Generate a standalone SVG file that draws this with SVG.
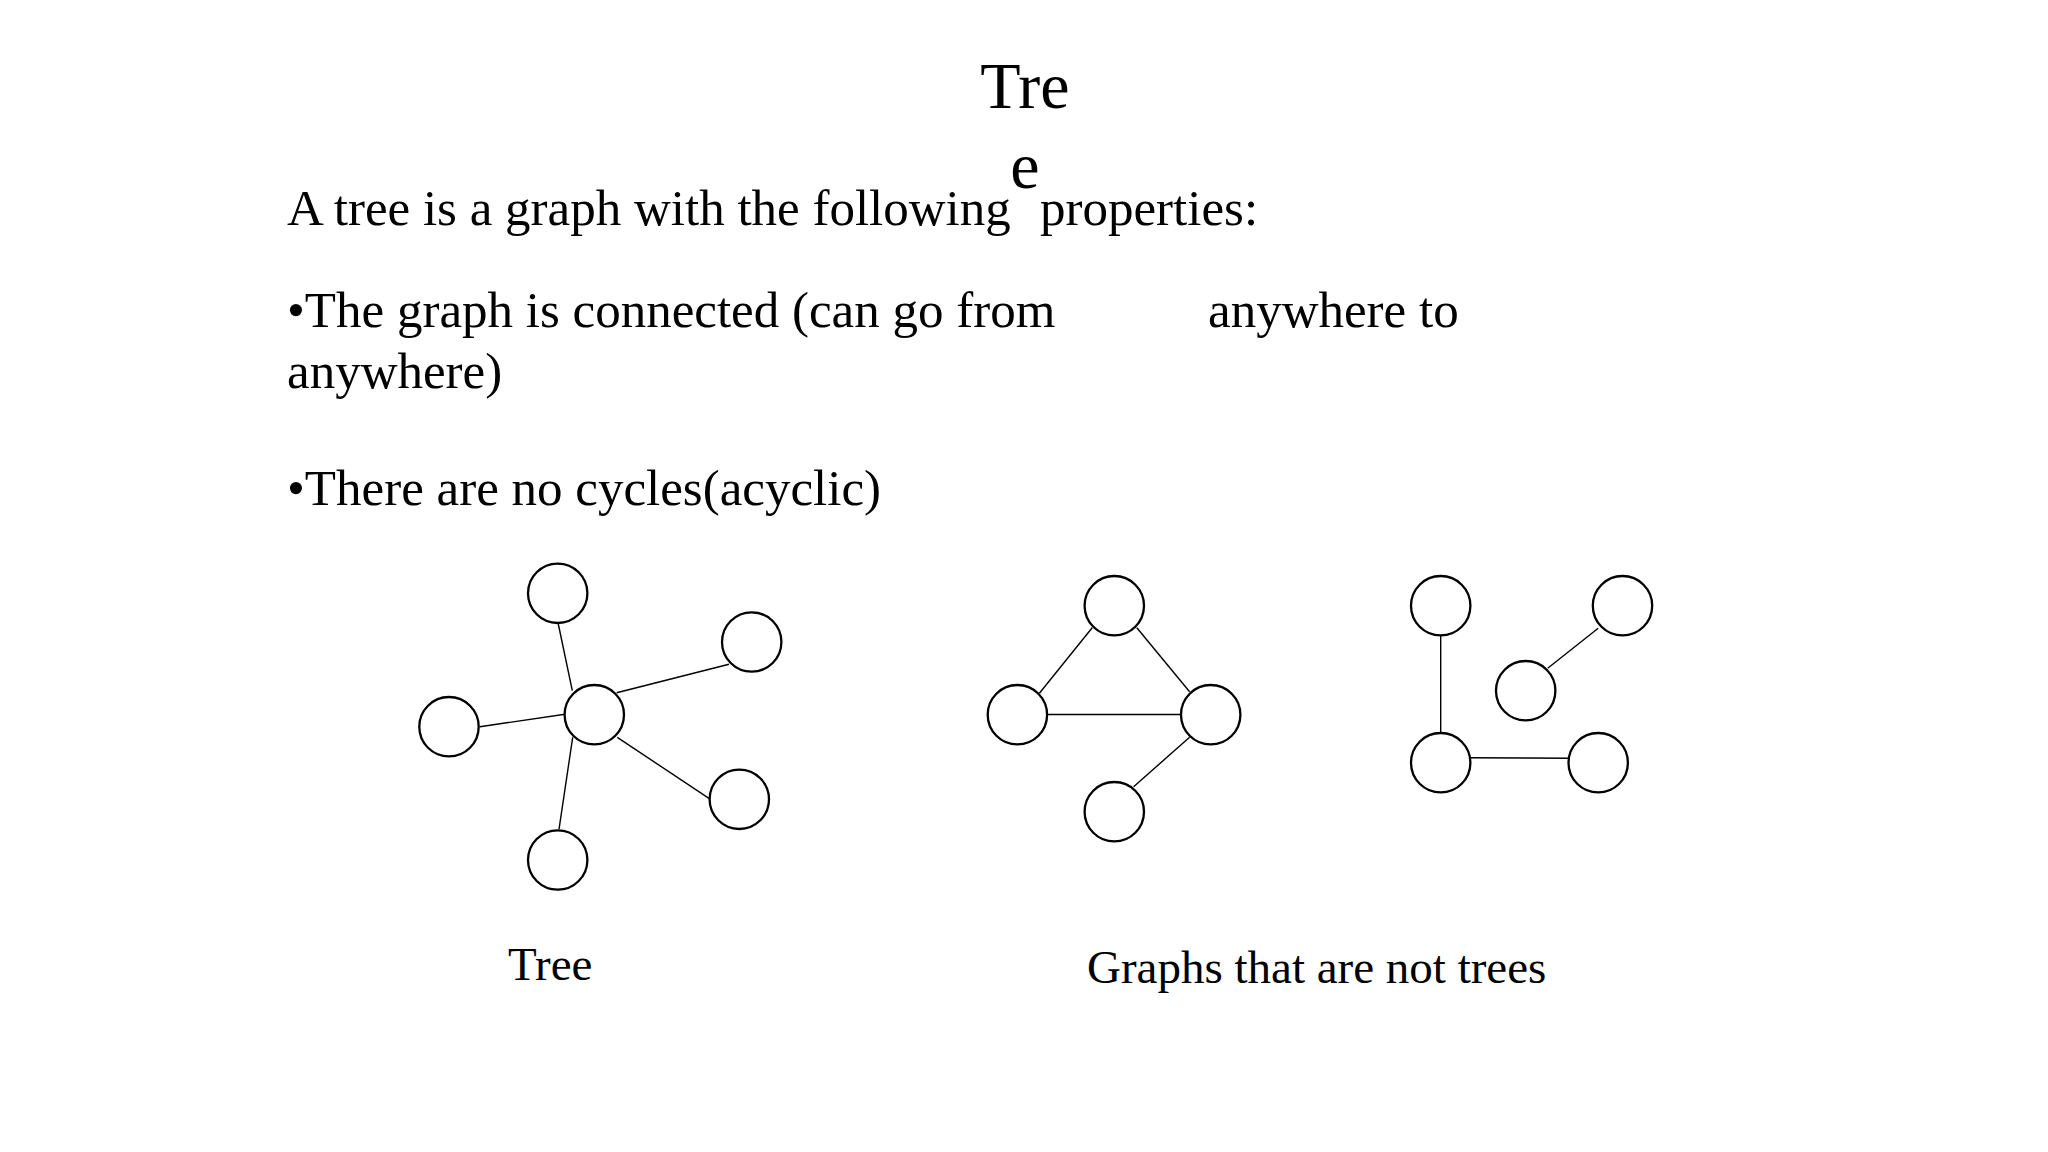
<svg xmlns="http://www.w3.org/2000/svg" width="2048" height="1152" viewBox="0 0 2048 1152">
<style>
text{font-family:"Liberation Serif","Times New Roman",serif;fill:#000}
.t{font-size:51px}
.l{font-size:47px}
.n{fill:#fff;stroke:#000;stroke-width:2.3}
.e{stroke:#000;stroke-width:1.4;fill:none}
</style>
<rect width="2048" height="1152" fill="#fff"/>
<g id="title">
<text x="1025" y="108" font-size="66" text-anchor="middle">Tre</text>
<text x="1025" y="188" font-size="66" text-anchor="middle">e</text>
</g>
<g id="body">
<text class="t" x="287" y="225">A tree is a graph with the following</text>
<text class="t" x="1040" y="225">properties:</text>
<text class="t" x="287" y="327">•The graph is connected (can go from</text>
<text class="t" x="1208" y="327">anywhere to</text>
<text class="t" x="287" y="388">anywhere)</text>
<text class="t" x="287" y="505">•There are no cycles(acyclic)</text>
</g>
<g id="connectors">
<line class="e" x1="558.3" y1="624" x2="572.3" y2="690.7"/>
<line class="e" x1="616.7" y1="692.7" x2="729" y2="664.3"/>
<line class="e" x1="480" y1="726.7" x2="565" y2="714.3"/>
<line class="e" x1="572.7" y1="737.3" x2="559" y2="829.3"/>
<line class="e" x1="617.3" y1="737.3" x2="709.3" y2="798.7"/>
<line class="e" x1="1092.2" y1="627.7" x2="1039.4" y2="693.3"/>
<line class="e" x1="1136.8" y1="627.7" x2="1189.6" y2="691.7"/>
<line class="e" x1="1047.2" y1="714.5" x2="1181.3" y2="714.5"/>
<line class="e" x1="1189.6" y1="737.3" x2="1133.6" y2="786.7"/>
<line class="e" x1="1440.7" y1="636" x2="1440.7" y2="732.7"/>
<line class="e" x1="1598.2" y1="628.3" x2="1547.7" y2="668.3"/>
<line class="e" x1="1471" y1="757.7" x2="1568.4" y2="758.3"/>
</g>
<g id="tree">
<circle id="t-top" class="n" cx="557.7" cy="593.3" r="29.7"/>
<circle id="t-rt" class="n" cx="751.7" cy="642" r="29.7"/>
<circle id="t-center" class="n" cx="594.3" cy="714.7" r="29.7"/>
<circle id="t-left" class="n" cx="449" cy="726.7" r="29.7"/>
<circle id="t-rb" class="n" cx="739.3" cy="799.3" r="29.7"/>
<circle id="t-bottom" class="n" cx="557.7" cy="860" r="29.7"/>
</g>
<g id="cycle-graph">
<circle id="c-top" class="n" cx="1114.3" cy="605.7" r="29.7"/>
<circle id="c-left" class="n" cx="1017.4" cy="714.7" r="29.7"/>
<circle id="c-right" class="n" cx="1210.7" cy="714.7" r="29.7"/>
<circle id="c-bottom" class="n" cx="1114.3" cy="811.7" r="29.7"/>
</g>
<g id="disconnected-graph">
<circle id="d-tl" class="n" cx="1440.7" cy="605.7" r="29.7"/>
<circle id="d-tr" class="n" cx="1622.5" cy="605.7" r="29.7"/>
<circle id="d-mid" class="n" cx="1525.7" cy="690.7" r="29.7"/>
<circle id="d-bl" class="n" cx="1440.7" cy="762.7" r="29.7"/>
<circle id="d-br" class="n" cx="1598.2" cy="762.7" r="29.7"/>
</g>
<g id="labels">
<text class="l" x="508" y="980">Tree</text>
<text class="l" x="1087" y="983">Graphs that are not trees</text>
</g>
</svg>
